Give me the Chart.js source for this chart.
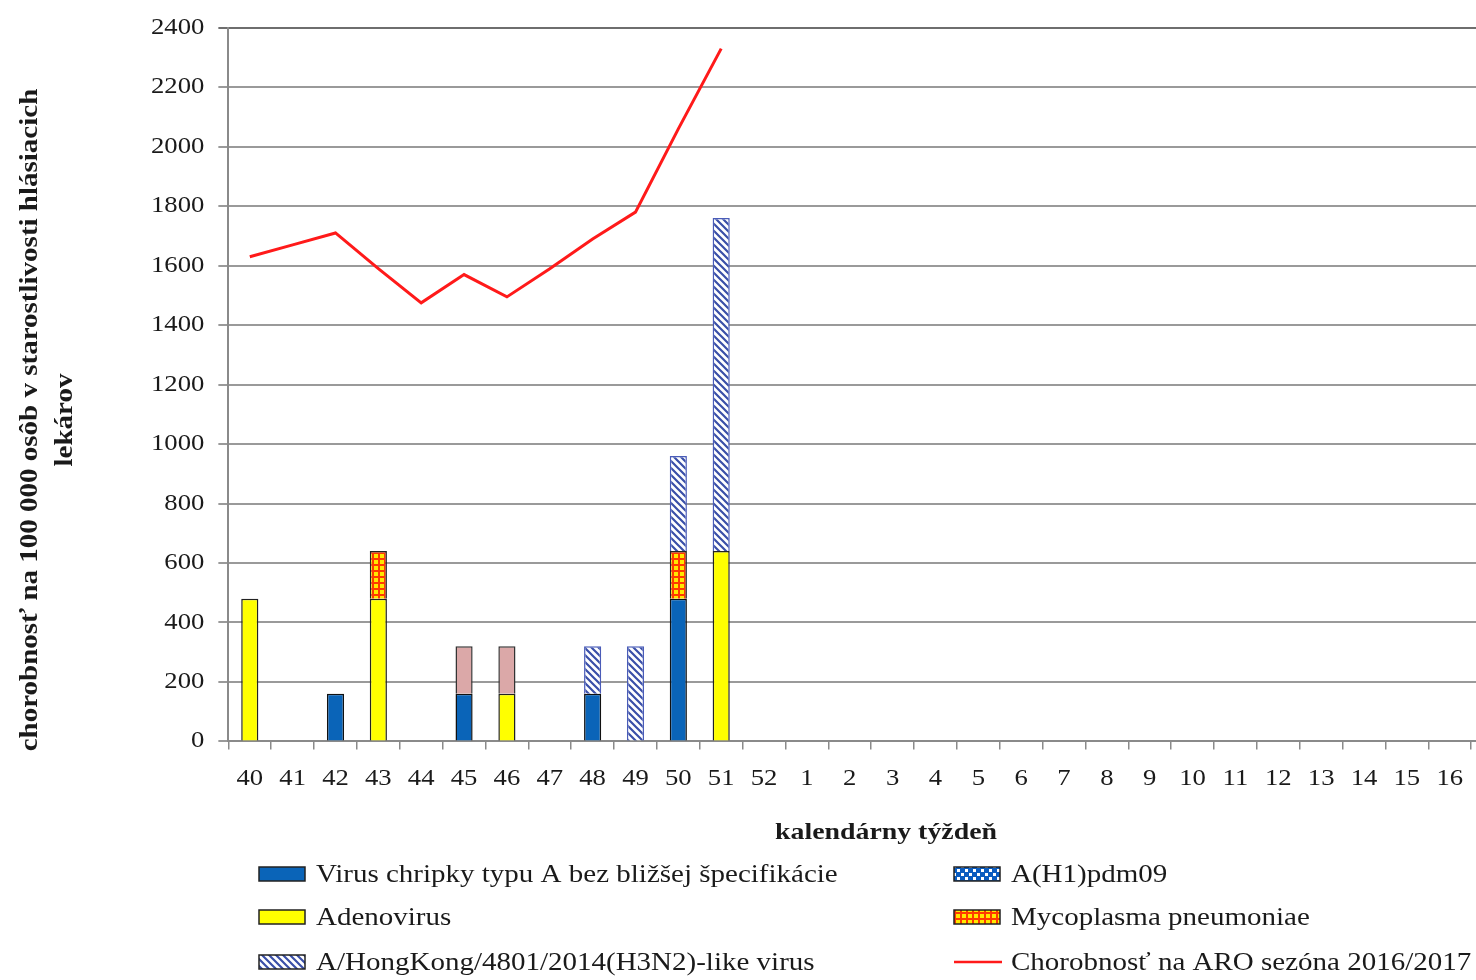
<!DOCTYPE html>
<html>
<head>
<meta charset="utf-8">
<script src="https://cdn.jsdelivr.net/npm/chart.js@4/dist/chart.umd.min.js"></script>
<style>
    html, body { margin: 0; padding: 0; background: #fff; overflow: hidden; }
    #clip { width: 1476px; height: 980px; overflow: hidden; }
    #wrap { width: 1526px; height: 980px; }
</style>
</head>
<body>
<div id="clip"><div id="wrap"><canvas id="aroChart"></canvas></div></div>
<script>
"use strict";

var weeks = ["40", "41", "42", "43", "44", "45", "46", "47", "48", "49", "50", "51", "52",
    "1", "2", "3", "4", "5", "6", "7", "8", "9", "10", "11", "12", "13", "14", "15", "16", "17"];

var virusA = [0, 0, 160, 0, 0, 160, 0, 0, 160, 0, 480, 0, 0, 0, 0, 0, 0, 0, 0, 0, 0, 0, 0, 0, 0, 0, 0, 0, 0, 0];
var adenovirus = [480, 0, 0, 480, 0, 0, 160, 0, 0, 0, 0, 640, 0, 0, 0, 0, 0, 0, 0, 0, 0, 0, 0, 0, 0, 0, 0, 0, 0, 0];
var h1pdm = [0, 0, 0, 0, 0, 0, 0, 0, 0, 0, 0, 0, 0, 0, 0, 0, 0, 0, 0, 0, 0, 0, 0, 0, 0, 0, 0, 0, 0, 0];
var mycoplasma = [0, 0, 0, 160, 0, 0, 0, 0, 0, 0, 160, 0, 0, 0, 0, 0, 0, 0, 0, 0, 0, 0, 0, 0, 0, 0, 0, 0, 0, 0];
var other = [0, 0, 0, 0, 0, 160, 160, 0, 0, 0, 0, 0, 0, 0, 0, 0, 0, 0, 0, 0, 0, 0, 0, 0, 0, 0, 0, 0, 0, 0];
var h3n2 = [0, 0, 0, 0, 0, 0, 0, 0, 160, 320, 320, 1120, 0, 0, 0, 0, 0, 0, 0, 0, 0, 0, 0, 0, 0, 0, 0, 0, 0, 0];
var aroRate = [1630, 1670, 1710, 1590, 1475, 1570, 1495, 1590, 1690, 1780, 2060, 2330,
    null, null, null, null, null, null, null, null, null, null, null, null, null, null, null, null, null, null];

var serif = "'Liberation Serif', 'DejaVu Serif', serif";
var stretch = 1.16;   // the source picture is widened, so text is too

var canvas = document.getElementById("aroChart");
var ctx2d = canvas.getContext("2d");
var rawFillText = ctx2d.fillText;
var rawMeasureText = ctx2d.measureText;
ctx2d.fillText = function (text, x, y) {
    this.save();
    this.translate(x, y);
    this.scale(stretch, 1);
    rawFillText.call(this, text, 0, 0);
    this.restore();
};
ctx2d.measureText = function (text) {
    var m = rawMeasureText.call(this, text);
    return {
        width: m.width * stretch,
        actualBoundingBoxAscent: m.actualBoundingBoxAscent,
        actualBoundingBoxDescent: m.actualBoundingBoxDescent
    };
};

function makePattern(kind) {
    var c = document.createElement("canvas");
    var ctx = c.getContext("2d");
    if (kind === "diag") {
        c.width = 7; c.height = 7;
        ctx.fillStyle = "#ffffff";
        ctx.fillRect(0, 0, 7, 7);
        ctx.strokeStyle = "#3a4fa8";
        ctx.lineWidth = 2.2;
        ctx.beginPath();
        ctx.moveTo(-1, -1); ctx.lineTo(8, 8);
        ctx.moveTo(-8, -1); ctx.lineTo(1, 8);
        ctx.moveTo(6, -1); ctx.lineTo(15, 8);
        ctx.stroke();
    } else if (kind === "grid") {
        c.width = 6; c.height = 6;
        ctx.fillStyle = "#ffe800";
        ctx.fillRect(0, 0, 6, 6);
        ctx.fillStyle = "#ff3a00";
        ctx.fillRect(0, 0, 6, 2);
        ctx.fillRect(0, 0, 2, 6);
    } else {
        c.width = 8; c.height = 8;
        ctx.fillStyle = "#0a5cc0";
        ctx.fillRect(0, 0, 8, 8);
        ctx.fillStyle = "#ffffff";
        ctx.fillRect(1, 1, 3, 3);
        ctx.fillRect(5, 5, 3, 3);
    }
    return ctx.createPattern(c, "repeat");
}

var diagPattern = makePattern("diag");
var gridPattern = makePattern("grid");
var checkPattern = makePattern("check");

// legend in two columns like the original
var legendItems = [
    { ds: 0, col: 0, row: 0, text: "Virus chripky typu A bez bližšej špecifikácie" },
    { ds: 1, col: 0, row: 1, text: "Adenovirus" },
    { ds: 5, col: 0, row: 2, text: "A/HongKong/4801/2014(H3N2)-like virus" },
    { ds: 2, col: 1, row: 0, text: "A(H1)pdm09" },
    { ds: 3, col: 1, row: 1, text: "Mycoplasma pneumoniae" },
    { ds: 6, col: 1, row: 2, text: "Chorobnosť na ARO sezóna 2016/2017" }
];

var textPlugin = {
    id: "titlesAndLegend",
    afterDraw: function (chart) {
        var ctx = chart.ctx;
        var colX = [259, 954];
        var rowY = [874, 917, 962];
        ctx.save();
        ctx.fillStyle = "#1a1a1a";

        // axis titles
        ctx.font = "bold 24px " + serif;
        ctx.textAlign = "center";
        ctx.textBaseline = "middle";
        ctx.fillText("kalendárny týždeň", 886, 833);

        ctx.save();
        ctx.translate(31, 420);
        ctx.rotate(-Math.PI / 2);
        ctx.font = "bold 25px " + serif;
        ctx.fillText("chorobnosť na 100 000 osôb v starostlivosti hlásiacich", 0, 0);
        ctx.fillText("lekárov", 0, 35);
        ctx.restore();

        ctx.font = "25px " + serif;
        ctx.textAlign = "left";
        legendItems.forEach(function (item) {
            var ds = chart.data.datasets[item.ds];
            var x = colX[item.col];
            var y = rowY[item.row];
            if (ds.type === "line") {
                ctx.strokeStyle = ds.borderColor;
                ctx.lineWidth = 2.5;
                ctx.beginPath();
                ctx.moveTo(x, y);
                ctx.lineTo(x + 48, y);
                ctx.stroke();
            } else {
                ctx.fillStyle = ds.backgroundColor;
                ctx.fillRect(x, y - 7, 46, 14);
                ctx.strokeStyle = "#222";
                ctx.lineWidth = 1.5;
                ctx.strokeRect(x, y - 7, 46, 14);
            }
            ctx.fillStyle = "#1a1a1a";
            ctx.fillText(item.text, x + 57, y + 1);
        });
        ctx.restore();
    }
};

function barSet(label, values, fill, border) {
    return {
        type: "bar",
        label: label,
        data: values,
        backgroundColor: fill,
        borderColor: border,
        borderWidth: 1.5,
        barPercentage: 0.8,
        categoryPercentage: 0.5,
        order: 1
    };
}

var aroChart = new Chart(ctx2d, {
    data: {
        labels: weeks,
        datasets: [
            barSet("Virus chripky typu A bez bližšej špecifikácie", virusA, "#0a64b8", "#111"),
            barSet("Adenovirus", adenovirus, "#ffff00", "#222"),
            barSet("A(H1)pdm09", h1pdm, checkPattern, "#111"),
            barSet("Mycoplasma pneumoniae", mycoplasma, gridPattern, "#222"),
            barSet("", other, "#dba8a8", "#333"),
            barSet("A/HongKong/4801/2014(H3N2)-like virus", h3n2, diagPattern, "#4a5cb8"),
            {
                type: "line",
                label: "Chorobnosť na ARO sezóna 2016/2017",
                data: aroRate,
                borderColor: "#ff1a1a",
                backgroundColor: "#ff1a1a",
                borderWidth: 3,
                pointRadius: 0,
                tension: 0,
                stack: "aro",
                order: 0
            }
        ]
    },
    options: {
        responsive: true,
        maintainAspectRatio: false,
        animation: false,
        layout: { padding: { left: 137, right: 12, top: 2, bottom: 171 } },
        plugins: {
            legend: { display: false },
            tooltip: { enabled: false }
        },
        scales: {
            x: {
                stacked: true,
                grid: {
                    drawOnChartArea: false,
                    drawTicks: true,
                    tickLength: 8,
                    color: "#8a8a8a",
                    lineWidth: 1.5
                },
                border: { color: "#8a8a8a", width: 2 },
                ticks: {
                    color: "#1a1a1a",
                    font: { family: serif, size: 23 },
                    padding: 16,
                    maxRotation: 0,
                    autoSkip: false
                }
            },
            y: {
                stacked: true,
                min: 0,
                max: 2400,
                grid: {
                    color: function (c) { return c.tick && c.tick.value === 2400 ? "#6e6e6e" : "#9a9a9a"; },
                    lineWidth: 2,
                    tickLength: 10
                },
                border: { color: "#8a8a8a", width: 2 },
                ticks: {
                    stepSize: 200,
                    color: "#1a1a1a",
                    font: { family: serif, size: 23 },
                    padding: 14,
                    callback: function (value) { return String(value); }
                }
            }
        }
    },
    plugins: [textPlugin]
});
</script>
</body>
</html>
